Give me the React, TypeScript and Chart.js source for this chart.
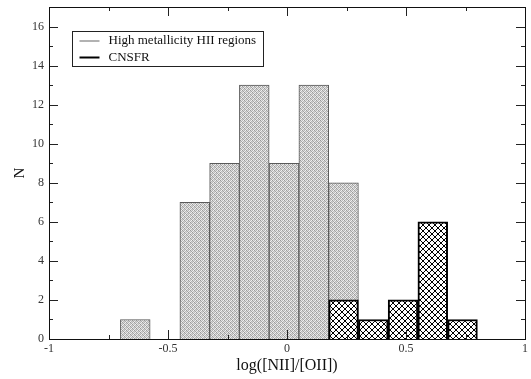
import React, { useEffect, useRef } from "react";
import { Chart, registerables } from "chart.js";

Chart.register(...registerables);

const hiiLabel = "High metallicity HII regions";
const cnsfrLabel = "CNSFR";
const hiiBinCenters = [-0.6375, -0.3875, -0.2625, -0.1375, -0.0125, 0.1125, 0.2375];
const hiiCounts = [1, 7, 9, 13, 9, 13, 8];
const cnsfrBinCenters = [0.2375, 0.3625, 0.4875, 0.6125, 0.7375];
const cnsfrCounts = [2, 1, 2, 6, 1];
const xMajorTicks = [-1, -0.5, 0, 0.5, 1];
const xMinorTicks = [-0.75, -0.25, 0.25, 0.75];
const yMajorTicks = [0, 2, 4, 6, 8, 10, 12, 14, 16];
const yMinorTicks = [1, 3, 5, 7, 9, 11, 13, 15];
const xTitle = "log([NII]/[OII])";
const yTitle = "N";

const SERIF = "'Liberation Serif', 'Times New Roman', 'DejaVu Serif', serif";

function makeGrayPattern(ctx: CanvasRenderingContext2D): CanvasPattern | string {
  const c = document.createElement("canvas");
  c.width = 4;
  c.height = 4;
  const g = c.getContext("2d");
  if (!g) return "#c8c8c8";
  const px = [
    ["#9a9a9a", "#e2e2e2", "#bcbcbc", "#f0f0f0"],
    ["#cfcfcf", "#a8a8a8", "#eeeeee", "#b8b8b8"],
    ["#b4b4b4", "#f2f2f2", "#9c9c9c", "#dcdcdc"],
    ["#ececec", "#bdbdbd", "#d0d0d0", "#a4a4a4"],
  ];
  for (let r = 0; r < 4; r++) {
    for (let col = 0; col < 4; col++) {
      g.fillStyle = px[r][col];
      g.fillRect(col, r, 1, 1);
    }
  }
  return ctx.createPattern(c, "repeat") || "#c8c8c8";
}

function makeHatchPattern(ctx: CanvasRenderingContext2D): CanvasPattern | string {
  const s = 6;
  const c = document.createElement("canvas");
  c.width = s;
  c.height = s;
  const g = c.getContext("2d");
  if (!g) return "#fff";
  g.fillStyle = "#ffffff";
  g.fillRect(0, 0, s, s);
  g.strokeStyle = "#000000";
  g.lineWidth = 1;
  g.beginPath();
  g.moveTo(-1, -1);
  g.lineTo(s + 1, s + 1);
  g.moveTo(s + 1, -1);
  g.lineTo(-1, s + 1);
  g.moveTo(-1, s - 1);
  g.lineTo(1, s + 1);
  g.moveTo(s - 1, -1);
  g.lineTo(s + 1, 1);
  g.moveTo(1, -1);
  g.lineTo(-1, 1);
  g.moveTo(s + 1, s - 1);
  g.lineTo(s - 1, s + 1);
  g.stroke();
  return ctx.createPattern(c, "repeat") || "#fff";
}

const frameTicksPlugin = {
  id: "frameTicks",
  afterDatasetsDraw(chart: any) {
    const { ctx, chartArea } = chart;
    const xs = chart.scales.x;
    const ys = chart.scales.y;
    const { left, right, top, bottom } = chartArea;
    ctx.save();
    ctx.strokeStyle = "#222";
    ctx.lineWidth = 1;
    ctx.beginPath();
    const major = 9;
    const minor = 4;
    const vTick = (v: number, len: number) => {
      const x = Math.round(xs.getPixelForValue(v)) + 0.5;
      ctx.moveTo(x, bottom);
      ctx.lineTo(x, bottom - len);
      ctx.moveTo(x, top);
      ctx.lineTo(x, top + len);
    };
    const hTick = (v: number, len: number) => {
      const y = Math.round(ys.getPixelForValue(v)) + 0.5;
      ctx.moveTo(left, y);
      ctx.lineTo(left + len, y);
      ctx.moveTo(right, y);
      ctx.lineTo(right - len, y);
    };
    xMajorTicks.forEach((v) => vTick(v, major));
    xMinorTicks.forEach((v) => vTick(v, minor));
    yMajorTicks.forEach((v) => hTick(v, major));
    yMinorTicks.forEach((v) => hTick(v, minor));
    ctx.stroke();
    ctx.strokeStyle = "#111";
    ctx.strokeRect(Math.round(left) + 0.5, Math.round(top) + 0.5, Math.round(right - left), Math.round(bottom - top));
    ctx.restore();
  },
};

const boxLegendPlugin = {
  id: "boxLegend",
  afterDraw(chart: any) {
    const { ctx, chartArea } = chart;
    const x0 = Math.round(chartArea.left) + 23.5;
    const y0 = Math.round(chartArea.top) + 24.5;
    const w = 191;
    const h = 35;
    ctx.save();
    ctx.fillStyle = "#ffffff";
    ctx.fillRect(x0, y0, w, h);
    ctx.strokeStyle = "#222";
    ctx.lineWidth = 1;
    ctx.strokeRect(x0, y0, w, h);
    const items = [
      { label: chart.data.datasets[0].label, color: "#999999", lw: 1.5, dy: 9.5 },
      { label: chart.data.datasets[1].label, color: "#000000", lw: 2, dy: 26 },
    ];
    ctx.font = `13px ${SERIF}`;
    ctx.textBaseline = "middle";
    ctx.textAlign = "left";
    items.forEach((it) => {
      ctx.strokeStyle = it.color;
      ctx.lineWidth = it.lw;
      ctx.beginPath();
      ctx.moveTo(x0 + 7, y0 + it.dy);
      ctx.lineTo(x0 + 27, y0 + it.dy);
      ctx.stroke();
      ctx.fillStyle = "#111";
      ctx.fillText(it.label, x0 + 36, y0 + it.dy);
    });
    ctx.restore();
  },
};

export default function App() {
  const ref = useRef<HTMLCanvasElement | null>(null);
  useEffect(() => {
    const canvas = ref.current;
    if (!canvas) return;
    const ctx = canvas.getContext("2d");
    if (!ctx) return;
    const gray = makeGrayPattern(ctx);
    const hatch = makeHatchPattern(ctx);
    const chart = new Chart(ctx, {
      type: "bar",
      data: {
        datasets: [
          {
            label: hiiLabel,
            data: hiiBinCenters.map((x, i) => ({ x, y: hiiCounts[i] })),
            backgroundColor: gray as any,
            borderColor: "#5a5a5a",
            borderWidth: 1,
            order: 1,
          },
          {
            label: cnsfrLabel,
            data: cnsfrBinCenters.map((x, i) => ({ x, y: cnsfrCounts[i] })),
            backgroundColor: hatch as any,
            borderColor: "#000000",
            borderWidth: 2,
            order: 0,
          },
        ],
      },
      options: {
        animation: false,
        responsive: false,
        grouped: false,
        barPercentage: 1,
        categoryPercentage: 1,
        layout: { padding: { left: 0, right: 6, top: 7, bottom: 0 } },
        plugins: { legend: { display: false }, tooltip: { enabled: false } },
        scales: {
          x: {
            type: "linear",
            offset: false,
            min: -1,
            max: 1,
            grid: { display: false, drawTicks: false, offset: false },
            border: { display: false },
            afterBuildTicks: (s: any) => {
              s.ticks = xMajorTicks.map((v) => ({ value: v }));
            },
            afterFit: (s: any) => {
              s.height = 40;
              s.paddingLeft = 0;
              s.paddingRight = 0;
            },
            ticks: {
              padding: 3,
              color: "#333",
              font: { family: SERIF, size: 12 },
              maxRotation: 0,
              callback: (v: any) => String(v),
            },
            title: {
              display: true,
              text: xTitle,
              color: "#111",
              font: { family: SERIF, size: 16 },
              padding: { top: 0, bottom: 4 },
            },
          },
          y: {
            min: 0,
            max: 17,
            grid: { display: false, drawTicks: false },
            border: { display: false },
            afterBuildTicks: (s: any) => {
              s.ticks = yMajorTicks.map((v) => ({ value: v }));
            },
            afterFit: (s: any) => {
              s.width = 49;
              s.paddingTop = 0;
              s.paddingBottom = 0;
            },
            ticks: {
              padding: 5,
              color: "#333",
              font: { family: SERIF, size: 12 },
            },
            title: {
              display: true,
              text: yTitle,
              color: "#111",
              font: { family: SERIF, size: 15 },
              padding: { top: 11, bottom: 4 },
            },
          },
        },
      } as any,
      plugins: [frameTicksPlugin, boxLegendPlugin],
    });
    return () => chart.destroy();
  }, []);
  return (
    <div style={{ position: "absolute", left: 0, top: 0, width: 531, height: 379, background: "#fff" }}>
      <canvas ref={ref} width={531} height={379} style={{ width: 531, height: 379, display: "block" }} />
    </div>
  );
}
